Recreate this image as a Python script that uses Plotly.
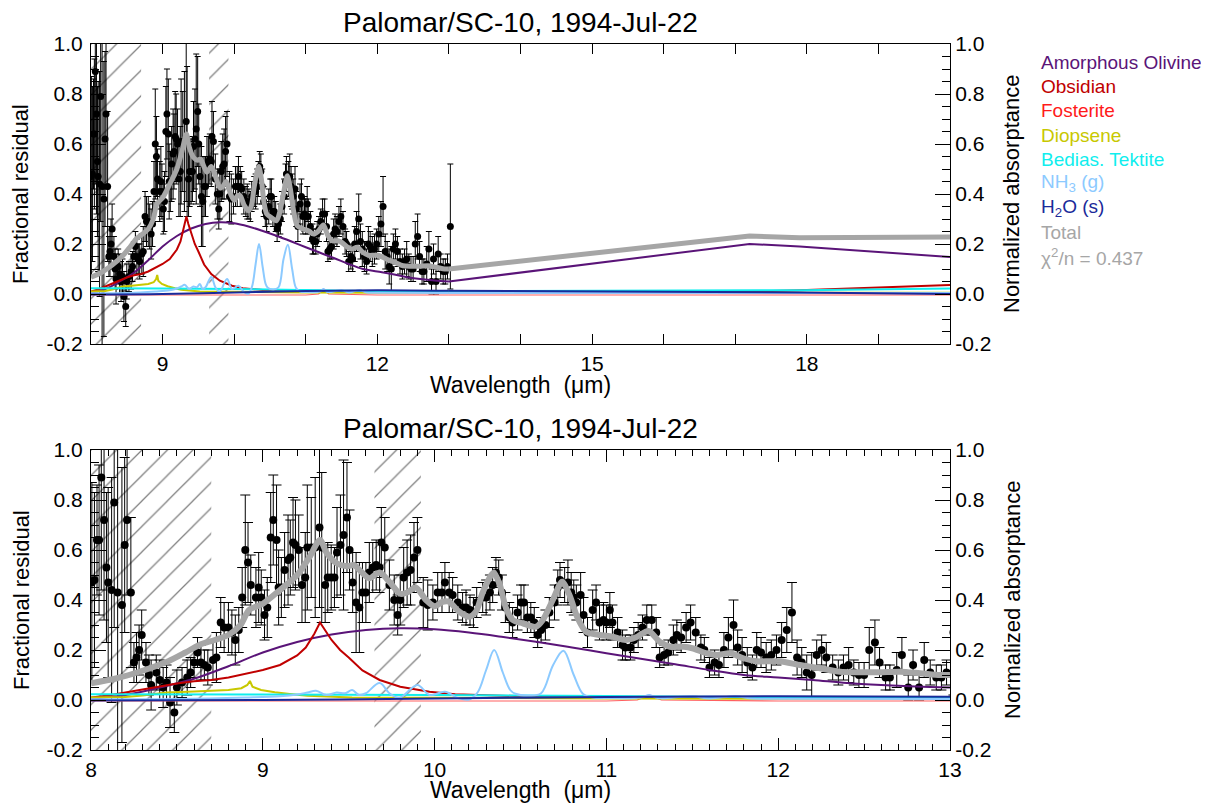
import plotly.graph_objects as go

FONT = "Liberation Sans, Arial, Helvetica, sans-serif"

# ---------------- measured residual spectrum ----------------
wl = [8.005, 8.020, 8.035, 8.047, 8.060, 8.076, 8.090, 8.100, 8.120, 8.135, 8.155, 8.180, 8.196, 8.210,
      8.232, 8.250, 8.265, 8.280, 8.295, 8.320, 8.337, 8.350, 8.380, 8.400, 8.420, 8.440, 8.460, 8.485,
      8.500, 8.530, 8.560, 8.580, 8.600, 8.620, 8.640, 8.660, 8.680, 8.710, 8.730, 8.755, 8.775, 8.800,
      8.820, 8.840, 8.860, 8.880, 8.898, 8.914, 8.930, 8.960, 8.976, 8.991, 9.010, 9.026, 9.046, 9.061,
      9.080, 9.092, 9.108, 9.127, 9.147, 9.160, 9.176, 9.190, 9.209, 9.228, 9.247, 9.259, 9.282, 9.305,
      9.330, 9.343, 9.363, 9.378, 9.398, 9.417, 9.432, 9.452, 9.470, 9.490, 9.505, 9.523, 9.543, 9.562,
      9.580, 9.600, 9.620, 9.640, 9.660, 9.680, 9.690, 9.710, 9.737, 9.765, 9.785, 9.800, 9.820, 9.840,
      9.860, 9.880, 9.900, 9.934, 9.960, 9.990, 10.018, 10.043, 10.060, 10.085, 10.105, 10.135, 10.163,
      10.183, 10.206, 10.226, 10.245, 10.280, 10.300, 10.322, 10.338, 10.357, 10.373, 10.392, 10.412,
      10.435, 10.454, 10.483, 10.503, 10.520, 10.540, 10.560, 10.580, 10.600, 10.620, 10.645, 10.668,
      10.698, 10.717, 10.730, 10.757, 10.776, 10.795, 10.810, 10.825, 10.850, 10.867, 10.890, 10.920,
      10.940, 10.960, 10.983, 11.000, 11.020, 11.035, 11.065, 11.094, 11.110, 11.140, 11.160, 11.185,
      11.210, 11.235, 11.264, 11.290, 11.310, 11.336, 11.360, 11.390, 11.410, 11.435, 11.464, 11.490,
      11.520, 11.550, 11.570, 11.600, 11.630, 11.655, 11.684, 11.710, 11.740, 11.764, 11.790, 11.820,
      11.850, 11.875, 11.900, 11.930, 11.960, 11.990, 12.020, 12.050, 12.080, 12.110, 12.137, 12.166,
      12.195, 12.224, 12.253, 12.280, 12.317, 12.350, 12.380, 12.410, 12.440, 12.470, 12.500, 12.530,
      12.563, 12.590, 12.625, 12.650, 12.690, 12.720, 12.757, 12.785, 12.820, 12.850, 12.885, 12.920,
      12.950, 12.980, 13.020]
resid = [0.47, 0.48, 0.64, 0.64, 0.89, 0.72, 0.53, 0.47, 0.44, 0.79, 0.43, 0.38, 0.62, 0.72,
         0.43, 0.15, 0.17, 0.20, 0.26, 0.15, 0.10, 0.06, 0.11, 0.08, 0.05, 0.07, -0.01, -0.05,
         0.05, 0.07, 0.09, 0.11, 0.15, 0.19, 0.15, 0.14, 0.13, 0.16, 0.17, 0.31, 0.29, 0.29,
         0.27, 0.24, 0.28, 0.41, 0.60, 0.55, 0.46, 0.41, 0.45, 0.41, 0.34, 0.37, 0.65, 0.72,
         0.64, 0.45, 0.45, 0.52, 0.56, 0.57, 0.63, 0.62, 0.60, 0.46, 0.49, 0.61, 0.61, 0.61,
         0.69, 0.61, 0.46, 0.49, 0.49, 0.49, 0.59, 0.62, 0.66, 0.73, 0.60, 0.47, 0.39, 0.37,
         0.43, 0.43, 0.51, 0.53, 0.54, 0.53, 0.63, 0.61, 0.46, 0.40, 0.34, 0.40, 0.49, 0.51,
         0.52, 0.57, 0.60, 0.39, 0.38, 0.39, 0.43, 0.43, 0.47, 0.43, 0.42, 0.39, 0.37,
         0.37, 0.36, 0.35, 0.39, 0.41, 0.41, 0.43, 0.46, 0.51, 0.49, 0.43, 0.37,
         0.33, 0.31, 0.35, 0.39, 0.39, 0.33, 0.33, 0.31, 0.26, 0.28, 0.30, 0.35,
         0.39, 0.45, 0.48, 0.46, 0.47, 0.43, 0.41, 0.39, 0.42, 0.34, 0.27, 0.36,
         0.39, 0.31, 0.32, 0.31, 0.36, 0.31, 0.27, 0.22, 0.21, 0.21, 0.24, 0.26,
         0.29, 0.32, 0.32, 0.27, 0.17, 0.18, 0.19, 0.24, 0.26, 0.25, 0.29, 0.31,
         0.27, 0.21, 0.20, 0.13, 0.15, 0.14, 0.20, 0.25, 0.30, 0.21, 0.18, 0.15,
         0.13, 0.20, 0.19, 0.17, 0.18, 0.20, 0.24, 0.28, 0.35, 0.17, 0.15, 0.11,
         0.10, 0.18, 0.20, 0.17, 0.13, 0.11, 0.13, 0.14, 0.11, 0.10, 0.10, 0.20,
         0.23, 0.15, 0.09, 0.09, 0.12, 0.18, 0.05, 0.14, 0.05, 0.16, 0.11, 0.09,
         0.09, 0.11, 0.27]
err = [0.40, 0.35, 0.22, 0.30, 0.45, 0.40, 0.30, 0.38, 0.45, 0.50, 1.00, 0.55, 0.35, 0.30,
       0.30, 0.08, 0.10, 0.10, 0.10, 0.08, 0.08, 0.10, 0.07, 0.08, 0.08, 0.07, 0.10, 0.08,
       0.07, 0.06, 0.07, 0.06, 0.06, 0.06, 0.07, 0.06, 0.07, 0.08, 0.10, 0.10, 0.10, 0.10,
       0.09, 0.10, 0.09, 0.12, 0.22, 0.16, 0.12, 0.12, 0.14, 0.11, 0.10, 0.12, 0.18, 0.18,
       0.22, 0.15, 0.12, 0.15, 0.18, 0.15, 0.18, 0.18, 0.14, 0.15, 0.18, 0.25, 0.20, 0.28,
       0.32, 0.30, 0.15, 0.14, 0.13, 0.12, 0.18, 0.20, 0.30, 0.22, 0.16, 0.12, 0.20, 0.18,
       0.12, 0.12, 0.12, 0.10, 0.10, 0.10, 0.14, 0.12, 0.10, 0.10, 0.08, 0.10, 0.12, 0.13,
       0.14, 0.14, 0.13, 0.10, 0.10, 0.07, 0.08, 0.08, 0.08, 0.08, 0.07, 0.07, 0.06,
       0.07, 0.06, 0.06, 0.06, 0.06, 0.07, 0.07, 0.07, 0.06, 0.07, 0.07, 0.06,
       0.06, 0.06, 0.07, 0.07, 0.07, 0.06, 0.06, 0.06, 0.05, 0.05, 0.06, 0.06,
       0.07, 0.07, 0.07, 0.07, 0.09, 0.08, 0.07, 0.07, 0.09, 0.07, 0.06, 0.08,
       0.07, 0.07, 0.07, 0.07, 0.07, 0.07, 0.06, 0.06, 0.05, 0.05, 0.05, 0.05,
       0.05, 0.06, 0.06, 0.06, 0.04, 0.04, 0.05, 0.06, 0.06, 0.06, 0.06, 0.07,
       0.06, 0.05, 0.05, 0.04, 0.05, 0.05, 0.07, 0.08, 0.10, 0.07, 0.07, 0.06,
       0.05, 0.07, 0.06, 0.06, 0.06, 0.06, 0.07, 0.09, 0.12, 0.07, 0.06, 0.07,
       0.09, 0.06, 0.06, 0.06, 0.05, 0.05, 0.05, 0.07, 0.05, 0.05, 0.05, 0.09,
       0.09, 0.06, 0.05, 0.05, 0.07, 0.07, 0.05, 0.06, 0.05, 0.07, 0.05, 0.05,
       0.05, 0.05, 0.25]

# ---------------- model components (8-13 um) ----------------
total_wl = [8.0, 8.15, 8.3, 8.45, 8.55, 8.63, 8.72, 8.8, 8.87, 8.92, 9.0, 9.1, 9.2, 9.27, 9.333, 9.37,
            9.43, 9.49, 9.53, 9.57, 9.62, 9.68, 9.74, 9.8, 9.84, 9.89, 9.95, 10.0, 10.047, 10.085,
            10.14, 10.2, 10.24, 10.28, 10.33, 10.345, 10.38, 10.416, 10.455, 10.513, 10.59, 10.63,
            10.688, 10.742, 10.785, 10.833, 10.882, 10.96, 11.036, 11.11, 11.17, 11.245, 11.31,
            11.37, 11.45, 11.5, 11.584, 11.642, 11.72, 11.797, 11.875, 11.95, 12.01, 12.127,
            12.243, 12.36, 12.476, 12.59, 12.709, 12.825, 12.942, 13.0]
total_val = [0.067, 0.087, 0.117, 0.155, 0.19, 0.22, 0.24, 0.26, 0.30, 0.36, 0.385, 0.44, 0.50, 0.57,
             0.64, 0.59, 0.547, 0.535, 0.54, 0.515, 0.487, 0.51, 0.47, 0.425, 0.43, 0.45, 0.40, 0.375,
             0.393, 0.393, 0.355, 0.333, 0.353, 0.43, 0.50, 0.51, 0.46, 0.367, 0.32, 0.307, 0.293,
             0.32, 0.40, 0.473, 0.42, 0.327, 0.273, 0.26, 0.253, 0.24, 0.25, 0.276, 0.233, 0.213,
             0.213, 0.207, 0.187, 0.18, 0.187, 0.167, 0.155, 0.155, 0.155, 0.14, 0.127, 0.113,
             0.111, 0.111, 0.113, 0.107, 0.10, 0.10]

olivine_wl = [8.0, 8.2, 8.4, 8.6, 8.8, 9.0, 9.2, 9.4, 9.6, 9.8, 10.0, 10.2, 10.4, 10.6, 10.8, 11.0,
              11.2, 11.4, 11.6, 11.8, 12.0, 12.2, 12.4, 12.6, 12.8, 13.0]
olivine_val = [0.005, 0.02, 0.05, 0.085, 0.135, 0.19, 0.232, 0.262, 0.28, 0.287, 0.283, 0.27, 0.252,
               0.232, 0.21, 0.187, 0.165, 0.143, 0.12, 0.10, 0.09, 0.08, 0.068, 0.06, 0.054, 0.05]

obsidian_wl = [8.0, 8.1, 8.2, 8.3, 8.4, 8.5, 8.6, 8.7, 8.8, 8.9, 9.0, 9.1, 9.2, 9.25, 9.3, 9.333,
               9.36, 9.4, 9.45, 9.5, 9.58, 9.68, 9.8, 9.97, 10.12, 10.4, 10.6, 11.0, 12.0, 13.0]
obsidian_val = [0.01, 0.018, 0.03, 0.042, 0.055, 0.066, 0.075, 0.08, 0.09, 0.104, 0.12, 0.14, 0.178,
                0.21, 0.265, 0.31, 0.28, 0.24, 0.20, 0.17, 0.118, 0.08, 0.053, 0.033, 0.023, 0.016,
                0.013, 0.01, 0.008, 0.008]

fosterite_wl = [8.0, 9.0, 10.0, 11.0, 11.18, 11.25, 11.32, 12.0, 13.0]
fosterite_val = [-0.004, -0.004, -0.004, -0.004, 0.0, 0.02, 0.0, -0.004, -0.004]

diopsene_wl = [8.0, 8.2, 8.3, 8.44, 8.6, 8.71, 8.8, 8.875, 8.91, 8.925, 8.94, 8.99, 9.07, 9.17, 9.26,
               9.52, 10.0, 11.0, 12.0, 13.0]
diopsene_val = [0.01, 0.012, 0.018, 0.03, 0.034, 0.037, 0.04, 0.047, 0.06, 0.076, 0.053, 0.04, 0.031,
                0.023, 0.017, 0.01, 0.008, 0.006, 0.005, 0.005]

tektite_wl = [8.0, 9.0, 10.0, 11.0, 12.0, 13.0]
tektite_val = [0.023, 0.022, 0.02, 0.016, 0.011, 0.011]

nh3_wl = [8.0, 8.5, 8.9, 9.1, 9.2, 9.26, 9.31, 9.37, 9.43, 9.48, 9.52, 9.56, 9.6, 9.68, 9.737, 9.795,
          9.9, 9.97, 10.06, 10.14, 10.2, 10.25, 10.3, 10.347, 10.397, 10.44, 10.47, 10.55, 10.62,
          10.69, 10.75, 10.81, 10.863, 10.92, 11.0, 11.2, 11.25, 11.3, 11.5, 11.6, 11.75, 11.85,
          12.0, 13.0]
nh3_val = [0.003, 0.004, 0.01, 0.015, 0.022, 0.03, 0.037, 0.02, 0.03, 0.027, 0.04, 0.02, 0.027, 0.068,
           0.027, 0.009, 0.06, 0.02, 0.033, 0.007, 0.002, 0.03, 0.12, 0.20, 0.11, 0.04, 0.025, 0.018,
           0.027, 0.14, 0.197, 0.10, 0.025, 0.01, 0.008, 0.01, 0.02, 0.008, 0.015, 0.006, 0.015,
           0.006, 0.005, 0.004]

h2o_wl = [8.0, 9.0, 10.0, 11.0, 12.0, 13.0]
h2o_val = [-0.002, 0.0, 0.006, 0.012, 0.015, 0.013]

# long-wavelength continuation (upper panel only)
tail_wl = [13.0, 17.2, 17.9, 20.0]
total_tail = [0.10, 0.232, 0.225, 0.228]
olivine_tail = [0.05, 0.20, 0.19, 0.148]
obsidian_tail = [0.008, 0.01, 0.015, 0.036]
fosterite_tail = [-0.004, -0.004, -0.004, -0.004]
diopsene_tail = [0.005, 0.005, 0.005, 0.005]
tektite_tail = [0.011, 0.012, 0.015, 0.022]
nh3_tail = [0.004, 0.004, 0.004, 0.004]
h2o_tail = [0.013, 0.008, 0.006, 0.0]

hatch_ranges = [[8.0, 8.7], [9.65, 9.92]]

y_tick_vals = [-0.2, 0.0, 0.2, 0.4, 0.6, 0.8, 1.0]
y_tick_text = ["-0.2", "0.0", "0.2", "0.4", "0.6", "0.8", "1.0"]

legend_labels = ["Amorphous Olivine", "Obsidian", "Fosterite", "Diopsene", "Bedias. Tektite",
                 "NH<sub>3</sub> (g)", "H<sub>2</sub>O (s)", "Total", "\u03c7<sup>2</sup>/n = 0.437"]
legend_colors = ["#5a1478", "#c00000", "#ff1a1a", "#c8c800", "#10eeee", "#8ccaff", "#1a2a9a",
                 "#a6a6a6", "#a6a6a6"]

YR = [-0.2, 1.0]
title_text = "Palomar/SC-10, 1994-Jul-22"

components = [
    (olivine_wl, olivine_val, olivine_tail, legend_colors[0], "spline", 2),
    (obsidian_wl, obsidian_val, obsidian_tail, legend_colors[1], "linear", 2),
    (fosterite_wl, fosterite_val, fosterite_tail, "#ff6060", "linear", 1.2),
    (diopsene_wl, diopsene_val, diopsene_tail, legend_colors[3], "linear", 2),
    (tektite_wl, tektite_val, tektite_tail, legend_colors[4], "spline", 2),
    (nh3_wl, nh3_val, nh3_tail, legend_colors[5], "spline", 2),
    (h2o_wl, h2o_val, h2o_tail, legend_colors[6], "spline", 2),
]

fig = go.Figure()


def add_panel(xa, ya, yr, top):
    # hatched excluded regions
    for a, b in hatch_ranges:
        fig.add_trace(go.Scatter(
            x=[a, b, b, a, a], y=[YR[0], YR[0], YR[1], YR[1], YR[0]], xaxis=xa, yaxis=ya,
            mode="none", fill="toself", fillcolor="rgba(0,0,0,0)",
            fillpattern=dict(shape="/", size=18, solidity=0.07, fgcolor="black",
                             bgcolor="rgba(0,0,0,0)"),
            hoverinfo="skip", showlegend=False))
    # data
    fig.add_trace(go.Scatter(
        x=wl, y=resid, xaxis=xa, yaxis=ya, mode="markers",
        marker=dict(color="black", size=7 if top else 8),
        error_y=dict(type="data", array=err, color="black", thickness=1, width=3 if top else 5),
        showlegend=False))
    # components
    for cx, cy, ct, col, shp, lw in components:
        fig.add_trace(go.Scatter(x=cx, y=cy, xaxis=xa, yaxis=ya, mode="lines",
                                 line=dict(color=col, width=lw, shape=shp), showlegend=False))
        if top:
            fig.add_trace(go.Scatter(x=tail_wl, y=ct, xaxis=xa, yaxis=ya, mode="lines",
                                     line=dict(color=col, width=lw), showlegend=False))
    # total (on overlay axis so it sits on top)
    fig.add_trace(go.Scatter(x=total_wl, y=total_val, xaxis=xa, yaxis=yr, mode="lines",
                             line=dict(color="#a6a6a6", width=5 if top else 6, shape="spline",
                                       smoothing=0.8),
                             showlegend=False))
    if top:
        fig.add_trace(go.Scatter(x=tail_wl, y=total_tail, xaxis=xa, yaxis=yr, mode="lines",
                                 line=dict(color="#a6a6a6", width=5), showlegend=False))


add_panel("x", "y", "y3", True)
add_panel("x2", "y2", "y4", False)

# page body has an 8px margin: figure occupies [8, 8+W] x [8, 8+H] in window pixels
OFF = 8
W, H = 1193, 795
L_AX, R_AX, T_AX, B_AX = 91, 950, 44, 750     # plot-area edges in window pixels
ML = L_AX - OFF
MR = (OFF + W) - R_AX
MT = T_AX - OFF
MB = (OFF + H) - B_AX
PW, PH = W - ML - MR, H - MT - MB


def px(xp):
    return (xp - OFF - ML) / PW


def py(yp):
    return (OFF + H - MB - yp) / PH


tickfont = dict(family=FONT, size=21, color="black")


def yaxis_common(standoff):
    return dict(range=YR, tickmode="array", tickvals=y_tick_vals, ticktext=y_tick_text,
                ticks="inside", ticklen=15,
                tickwidth=1, tickcolor="black", showline=True, linecolor="black", linewidth=1,
                showgrid=False, zeroline=False, tickfont=tickfont, ticklabelstandoff=standoff,
                minor=dict(ticks="inside", tick0=0, dtick=0.05, ticklen=8, tickcolor="black",
                           showgrid=False))


top_dom = [py(344), 1.0]
bot_dom = [0.0, py(450)]

fig.update_layout(
    width=W, height=H, margin=dict(l=ML, r=MR, t=MT, b=MB, autoexpand=False),
    paper_bgcolor="white", plot_bgcolor="white", showlegend=False,
    font=dict(family=FONT, color="black"),
    xaxis=dict(domain=[0, 1], anchor="y", range=[8, 20], tick0=9, dtick=3, ticks="inside",
               ticklen=10, tickcolor="black", showline=True, linecolor="black", linewidth=1,
               mirror="ticks", showgrid=False, zeroline=False, tickfont=tickfont,
               ticklabelstandoff=1,
               minor=dict(ticks="inside", dtick=1, ticklen=10, tickcolor="black", showgrid=False)),
    xaxis2=dict(domain=[0, 1], anchor="y2", range=[8, 13], tick0=8, dtick=1, ticks="inside",
                ticklen=12, tickcolor="black", showline=True, linecolor="black", linewidth=1,
                mirror="ticks", showgrid=False, zeroline=False, tickfont=tickfont,
                ticklabelstandoff=1,
                minor=dict(ticks="inside", dtick=0.1, ticklen=6, tickcolor="black",
                           showgrid=False)),
    yaxis=dict(domain=top_dom, anchor="x", side="left", **yaxis_common(3)),
    yaxis2=dict(domain=bot_dom, anchor="x2", side="left", **yaxis_common(3)),
    yaxis3=dict(overlaying="y", anchor="x", side="right", **yaxis_common(0)),
    yaxis4=dict(overlaying="y2", anchor="x2", side="right", **yaxis_common(0)),
)

ann = []
for ty in (22, 428):
    ann.append(dict(text=title_text, x=0.5, y=py(ty), xref="paper", yref="paper",
                    showarrow=False, font=dict(family=FONT, size=28, color="black"),
                    xanchor="center", yanchor="middle"))
for ty in (385, 790):
    ann.append(dict(text="Wavelength\u00a0\u00a0(\u03bcm)", x=0.5, y=py(ty), xref="paper",
                    yref="paper", showarrow=False, font=dict(family=FONT, size=23, color="black"),
                    xanchor="center", yanchor="middle"))
for cy in (194, 600):
    ann.append(dict(text="Fractional residual", x=px(21), y=py(cy), xref="paper", yref="paper",
                    showarrow=False, textangle=-90, font=dict(family=FONT, size=22, color="black"),
                    xanchor="center", yanchor="middle"))
    ann.append(dict(text="Normalized absorptance", x=px(1012), y=py(cy), xref="paper",
                    yref="paper", showarrow=False, textangle=-90,
                    font=dict(family=FONT, size=22, color="black"),
                    xanchor="center", yanchor="middle"))
leg_y = [62, 86.5, 111, 135, 159, 183, 208, 232, 256.5]
for lab, col, ly in zip(legend_labels, legend_colors, leg_y):
    ann.append(dict(text=lab, x=px(1039), y=py(ly), xref="paper", yref="paper", showarrow=False,
                    font=dict(family=FONT, size=19, color=col), xanchor="left",
                    yanchor="middle"))
fig.update_layout(annotations=ann)

fig.write_html("out.html")
